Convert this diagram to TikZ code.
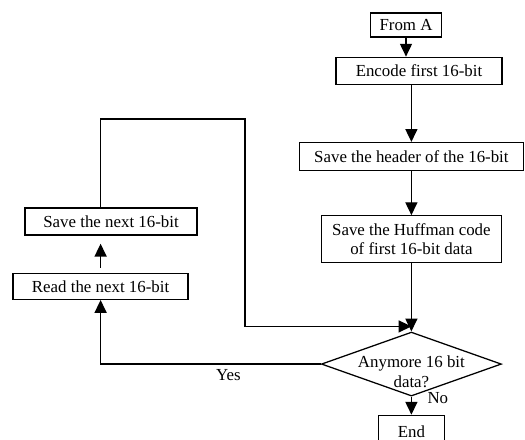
\documentclass[tikz,border=0pt]{standalone}
\usepackage{fontspec}
\setmainfont{Liberation Serif}
\usetikzlibrary{arrows.meta,positioning,shapes.geometric}

\tikzset{
  block/.style={draw, line width=.9pt, inner sep=2pt, align=center},
  decision/.style={draw, diamond, line width=.9pt, inner sep=0pt,
    minimum width=4.5cm, minimum height=1.6cm},
}

\begin{document}
\begin{tikzpicture}[line width=.9pt, >={Triangle[length=.32cm,width=.3cm]},
  font=\fontsize{12}{14}\selectfont]
\useasboundingbox (0,0) rectangle (13.125,-11);

% right column
\node [block, minimum width=1.775cm, minimum height=.6cm] (fromA) at (10.15,-.625) {From A};
\node [block, below=.475cm of fromA, xshift=.325cm, minimum width=4.15cm, minimum height=.675cm] (encode) {Encode first 16-bit};
\node [block, below=1.425cm of encode, xshift=-.19cm, minimum width=5.6cm, minimum height=.7cm] (header) {Save the header of the 16-bit};
\node [block, below=1.1cm of header, minimum width=4.5cm, minimum height=1.175cm] (huff) {Save the Huffman code\\of first 16-bit data};
\node [decision, below=1.7cm of huff] (dec) {};
\node [align=center, inner sep=0pt] (dectext) at ([yshift=-.2cm]dec.center) {Anymore 16 bit\\data?};
\node [block, below=.45cm of dec, minimum width=1.65cm, minimum height=.8cm] (end) {End};

% left column
\node [block, minimum width=4.3cm, minimum height=.675cm] (savenext) at (2.775,-5.54) {Save the next 16-bit};
\node [block, below=.925cm of savenext, xshift=-.26cm, minimum width=4.375cm, minimum height=.65cm] (readnext) {Read the next 16-bit};

\coordinate (loopR) at (6.125,-2.975);
\coordinate [above=.125cm of dec.north] (join);

\draw [->] (fromA.south) -- (fromA.south |- encode.north);
\draw [->] (encode.south -| header.south) -- (header.north);
\draw [->] (header.south) -- (huff.north);
\draw [->] (huff.south) -- (dec.north);
\draw [->] (dec.south) -- node [pos=.05, right=.27cm] (no) {No} (end.north);

\draw [->, shorten <=.12cm, shorten >=.2cm] (readnext.north) -- (readnext.north |- savenext.south);
\draw [->] (readnext.north |- savenext.north) |- (loopR) |- (join);
\draw [->] (dec.west) -| node [pos=.21, below] (yes) {Yes} (readnext.south);

\end{tikzpicture}
\end{document}
